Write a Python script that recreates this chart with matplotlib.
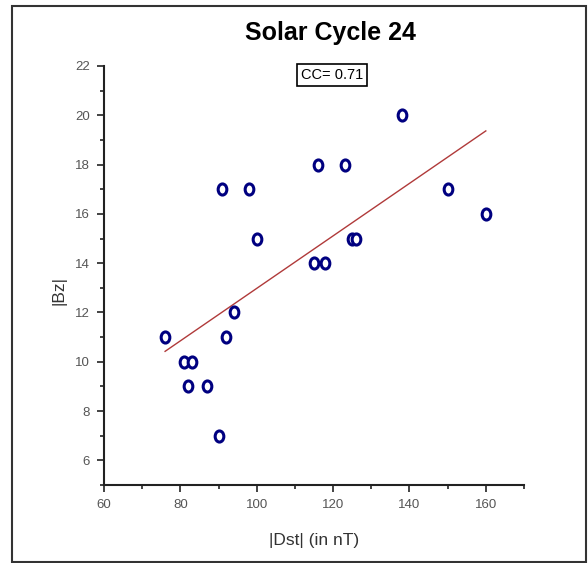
import numpy as np
import matplotlib
matplotlib.use('Agg')
from matplotlib import pyplot as plt
from matplotlib.patches import Rectangle
from matplotlib.path import Path
from matplotlib.ticker import MultipleLocator

# |Dst| (nT) and |Bz| values
dst = [76, 81, 83, 82, 87, 90, 91, 92, 94, 98, 100, 115, 116, 118, 123, 125, 126, 138, 150, 160]
bz = [11, 10, 10, 9, 9, 7, 17, 11, 12, 17, 15, 14, 18, 14, 18, 15, 15, 20, 17, 16]

title = 'Solar Cycle 24'
cc_text = 'CC= 0.71'

plt.rcParams['font.family'] = ['Liberation Sans', 'DejaVu Sans']

fig = plt.figure(figsize=(5.88, 5.63), dpi=100)
ax = fig.add_axes([104/588, 1 - 485/563, 420/588, 419/563])

# linear fit
slope, icpt = np.polyfit(dst, bz, 1)
xs = np.array([min(dst), max(dst)])
ax.plot(xs, slope*xs + icpt, color='#b03a3a', lw=1)

# slightly tall oval marker
circ = Path.unit_circle()
oval = Path(circ.vertices * [0.78, 1.0], circ.codes)
ax.plot(dst, bz, ls='none', marker=oval, ms=8, mew=2.2, mfc='white', mec='#000080')

ax.set_xlim(60, 170)
ax.set_ylim(5, 22)
ax.xaxis.set_major_locator(MultipleLocator(20))
ax.xaxis.set_minor_locator(MultipleLocator(10))
ax.yaxis.set_major_locator(MultipleLocator(2))
ax.yaxis.set_minor_locator(MultipleLocator(1))
ax.set_yticks(np.arange(6, 23, 2))

for s in ['top', 'right']:
    ax.spines[s].set_visible(False)
for s in ['left', 'bottom']:
    ax.spines[s].set_linewidth(1.5)
    ax.spines[s].set_color('#222222')

ax.tick_params(which='major', direction='out', length=5, width=1.2, labelsize=9.5,
               labelcolor='#555555', color='#222222', pad=5)
ax.tick_params(which='minor', direction='out', length=3, width=1.2, color='#222222')

ax.set_xlabel('|Dst| (in nT)', fontsize=12.5, color='#333333')
ax.set_ylabel('|Bz|', fontsize=12.5, color='#333333')
ax.xaxis.set_label_coords(0.5, -0.115)
ax.yaxis.set_label_coords(-0.09, 0.465)

fig.text(330/588, 1 - 33/563, title, fontsize=18, fontweight='bold',
         ha='center', va='center')
fig.text(332/588, 1 - 75/563, cc_text, fontsize=10.5, ha='center', va='center',
         bbox=dict(boxstyle='square,pad=0.25', fc='white', ec='black', lw=1.2))

# outer frame
fig.patches.append(Rectangle((12/588, 1 - 562/563), 574/588, 556/563,
                             transform=fig.transFigure, fill=False,
                             ec='#333333', lw=1.5))

fig.savefig('out.png', dpi=100)
